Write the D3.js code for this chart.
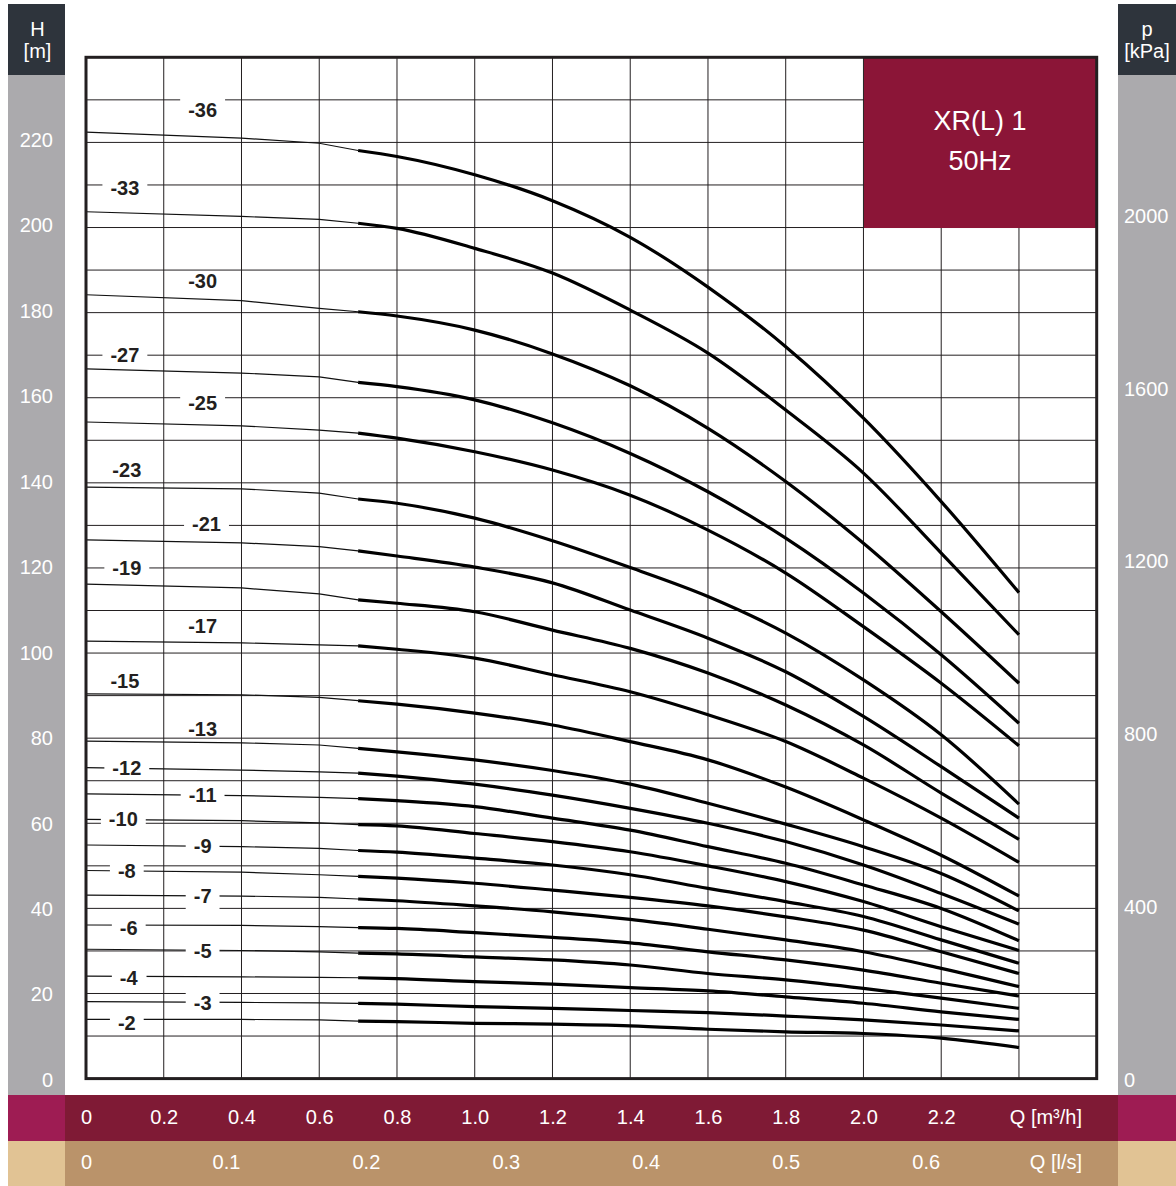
<!DOCTYPE html>
<html>
<head>
<meta charset="utf-8">
<script src="https://cdn.jsdelivr.net/npm/d3@7"></script>
<style>
  body { margin: 0; background: #fff; }
  text { font-family: "Liberation Sans", Arial, Helvetica, sans-serif; }
</style>
</head>
<body>
<svg id="chart" width="1176" height="1186"></svg>
<script>
// Pump curves XR(L) 1, 50 Hz: head H [m] against flow Q [m³/h]
const stages = [36, 33, 30, 27, 25, 23, 21, 19, 17, 15, 13, 12, 11, 10, 9, 8, 7, 6, 5, 4, 3, 2];

// Flow points of the thin (outside working range) and bold (working range) parts
const qThin = [0, 0.4, 0.6, 0.7];
const qBold = [0.7, 0.8, 1.0, 1.2, 1.4, 1.6, 1.8, 2.0, 2.2, 2.4];

// Head values [m], one row per stage count, same order as `stages`
const headThin = [
  [222.4, 221.0, 219.8, 218.1],
  [203.7, 202.6, 201.9, 201.0],
  [184.2, 182.8, 181.0, 180.2],
  [166.8, 165.8, 164.9, 163.6],
  [154.3, 153.4, 152.4, 151.7],
  [139.0, 138.6, 137.6, 136.2],
  [126.6, 125.9, 125.0, 124.0],
  [116.2, 115.3, 113.9, 112.5],
  [102.8, 102.4, 101.9, 101.7],
  [90.4, 90.2, 89.6, 88.8],
  [79.3, 78.9, 78.4, 77.6],
  [73.1, 72.5, 72.1, 71.8],
  [66.9, 66.5, 66.1, 65.8],
  [60.9, 60.6, 60.1, 59.7],
  [54.9, 54.5, 54.1, 53.6],
  [48.9, 48.5, 47.9, 47.5],
  [43.1, 42.9, 42.6, 42.2],
  [36.1, 36.0, 35.7, 35.5],
  [30.4, 30.1, 29.8, 29.5],
  [24.1, 23.9, 23.8, 23.7],
  [18.1, 17.9, 17.8, 17.7],
  [13.9, 13.9, 13.8, 13.5]
];

const headBold = [
  [218.1, 216.7, 212.4, 206.3, 197.7, 186.0, 172.0, 155.2, 135.6, 114.2],
  [201.0, 199.8, 195.1, 189.3, 180.6, 170.5, 157.1, 142.3, 123.5, 104.3],
  [180.2, 179.2, 175.9, 170.3, 162.8, 152.8, 140.3, 125.8, 109.7, 92.9],
  [163.6, 162.6, 159.5, 154.1, 146.9, 137.9, 127.0, 114.1, 99.6, 83.5],
  [151.7, 150.5, 147.3, 143.0, 137.1, 128.9, 118.8, 106.2, 92.9, 78.2],
  [136.2, 135.2, 131.7, 126.4, 120.1, 113.3, 104.7, 93.7, 80.8, 64.5],
  [124.0, 122.8, 120.2, 116.5, 110.1, 103.5, 95.6, 85.1, 73.3, 61.2],
  [112.5, 111.7, 109.7, 105.4, 101.1, 95.3, 87.8, 78.4, 67.1, 56.2],
  [101.7, 100.9, 98.8, 94.9, 90.9, 85.5, 79.2, 70.6, 61.2, 50.8],
  [88.8, 88.0, 85.9, 83.1, 79.2, 74.9, 68.5, 60.8, 52.5, 42.9],
  [77.6, 76.8, 74.9, 72.4, 69.2, 64.7, 59.8, 54.5, 48.2, 39.4],
  [71.8, 71.1, 69.2, 66.6, 63.5, 60.0, 55.7, 50.2, 43.5, 36.3],
  [65.8, 65.3, 63.9, 61.2, 58.4, 54.5, 50.6, 45.5, 40.0, 32.4],
  [59.7, 59.4, 57.6, 55.7, 53.3, 50.0, 46.3, 41.6, 35.7, 30.1],
  [53.6, 53.2, 51.8, 50.2, 47.9, 44.7, 41.6, 38.1, 32.6, 27.1],
  [47.5, 47.1, 45.9, 44.3, 42.6, 40.6, 38.0, 34.9, 29.8, 24.7],
  [42.2, 41.8, 40.6, 39.2, 37.4, 35.1, 32.6, 29.8, 25.9, 21.6],
  [35.5, 35.3, 34.3, 33.2, 31.9, 29.8, 27.9, 25.5, 22.4, 19.4],
  [29.5, 29.3, 28.6, 27.9, 26.7, 24.7, 23.2, 21.2, 18.9, 16.5],
  [23.7, 23.5, 22.8, 22.2, 21.4, 20.6, 19.2, 17.7, 15.7, 13.9],
  [17.7, 17.5, 16.9, 16.5, 16.0, 15.5, 14.7, 13.8, 12.6, 11.2],
  [13.5, 13.4, 13.0, 12.8, 12.4, 11.6, 11.0, 10.6, 9.5, 7.3]
];

// Where each stage label sits, in chart units (Q, H)
const labelQ = [0.30, 0.10, 0.30, 0.10, 0.30, 0.105, 0.31, 0.105, 0.30, 0.10, 0.30,
                0.105, 0.30, 0.096, 0.30, 0.105, 0.30, 0.11, 0.30, 0.11, 0.30, 0.105];
const labelH = [227.6, 209.3, 187.5, 170.1, 158.8, 143.0, 130.3, 120.0, 106.4, 93.4, 82.3,
                73.1, 66.6, 61.0, 54.7, 48.9, 42.9, 35.5, 30.1, 23.6, 17.8, 13.1];

// Axis ticks
const hTicks = [0, 20, 40, 60, 80, 100, 120, 140, 160, 180, 200, 220];
const pTicks = [0, 400, 800, 1200, 1600, 2000];
const qTicks = [0, 0.2, 0.4, 0.6, 0.8, 1.0, 1.2, 1.4, 1.6, 1.8, 2.0, 2.2];
const lsTicks = [0, 0.1, 0.2, 0.3, 0.4, 0.5, 0.6];
const hGrid = d3.range(10, 240, 10);
const qGrid = d3.range(1, 13).map(i => i * 0.2);

const titleLines = ["XR(L) 1", "50Hz"];

// ---------------------------------------------------------------
const svg = d3.select("#chart");
const plot = { left: 86, right: 1096.7, top: 57.3, bottom: 1078.6 };

const x = d3.scaleLinear().domain([0, 2.6]).range([plot.left, plot.right]);
const xLs = d3.scaleLinear().domain([0, 2.6 / 3.6]).range([plot.left, plot.right]);
const y = d3.scaleLinear().domain([0, 240]).range([plot.bottom, plot.top]);
// the head scale printed in the left column runs a touch taller than the grid
const yLabel = d3.scaleLinear().domain([0, 220]).range([1080, 140]);
const yP = d3.scaleLinear().domain([0, 2364]).range([plot.bottom, plot.top]);

const ink = "#231f20";

// Side columns and bottom bands
svg.append("rect").attr("x", 8).attr("y", 75).attr("width", 57).attr("height", 1020).attr("fill", "#abaaad");
svg.append("rect").attr("x", 1118).attr("y", 75).attr("width", 58).attr("height", 1020).attr("fill", "#abaaad");
svg.append("rect").attr("x", 8).attr("y", 4).attr("width", 57).attr("height", 71).attr("fill", "#2e343c");
svg.append("rect").attr("x", 1118).attr("y", 4).attr("width", 58).attr("height", 71).attr("fill", "#2e343c");

svg.append("rect").attr("x", 8).attr("y", 1095).attr("width", 1168).attr("height", 46).attr("fill", "#9e1c53");
svg.append("rect").attr("x", 65).attr("y", 1095).attr("width", 1053).attr("height", 46).attr("fill", "#7f1a35");
svg.append("rect").attr("x", 8).attr("y", 1141).attr("width", 1168).attr("height", 45).attr("fill", "#e1c394");
svg.append("rect").attr("x", 65).attr("y", 1141).attr("width", 1053).attr("height", 45).attr("fill", "#ba936a");

// Unit headers
const hdr = (cx, lines) => lines.forEach((t, i) =>
  svg.append("text").attr("x", cx).attr("y", 29 + i * 22).attr("dy", "0.35em")
     .attr("text-anchor", "middle").attr("fill", "#fff").attr("font-size", 20).text(t));
hdr(37.5, ["H", "[m]"]);
hdr(1147, ["p", "[kPa]"]);

// Plot background and grid
svg.append("rect").attr("x", plot.left).attr("y", plot.top)
   .attr("width", plot.right - plot.left).attr("height", plot.bottom - plot.top).attr("fill", "#fff");

const grid = svg.append("g").attr("stroke", ink).attr("stroke-width", 1);
grid.selectAll("line.h").data(hGrid).join("line").attr("class", "h")
    .attr("x1", plot.left).attr("x2", plot.right).attr("y1", d => y(d)).attr("y2", d => y(d));
grid.selectAll("line.v").data(qGrid).join("line").attr("class", "v")
    .attr("y1", plot.top).attr("y2", plot.bottom).attr("x1", d => x(d)).attr("x2", d => x(d));

// Curves
const thinLine = d3.line().x(d => x(d[0])).y(d => y(d[1]));
const boldLine = d3.line().x(d => x(d[0])).y(d => y(d[1])).curve(d3.curveMonotoneX);

const curves = svg.append("g").attr("fill", "none");
stages.forEach((s, i) => {
  curves.append("path")
    .attr("d", thinLine(qThin.map((q, j) => [q, headThin[i][j]])))
    .attr("stroke", "#111").attr("stroke-width", 1.2);
  curves.append("path")
    .attr("d", boldLine(qBold.map((q, j) => [q, headBold[i][j]])))
    .attr("stroke", "#000").attr("stroke-width", 3.2);
});

// Stage labels, each on a white patch that breaks the lines behind it
const padTop = { 36: 12, 3: 12 };
const padBottom = { 7: 14 };
const labels = svg.append("g");
stages.forEach((s, i) => {
  const g = labels.append("g");
  const cx = x(labelQ[i]), cy = y(labelH[i]);
  const t = g.append("text").attr("x", cx).attr("y", cy).attr("dy", "0.36em")
    .attr("text-anchor", "middle").attr("font-size", 20).attr("font-weight", "bold")
    .attr("fill", ink).text("-" + s);
  const bb = t.node().getBBox();
  const top = padTop[s] || 8, bottom = padBottom[s] || 8;
  g.insert("rect", "text")
    .attr("x", bb.x - 8).attr("width", bb.width + 16)
    .attr("y", cy - top).attr("height", top + bottom).attr("fill", "#fff");
});

// Type box
svg.append("rect").attr("x", 864).attr("y", plot.top)
   .attr("width", plot.right - 864).attr("height", 228 - plot.top).attr("fill", "#8b1537");
titleLines.forEach((t, i) =>
  svg.append("text").attr("x", 980).attr("y", 121 + i * 40).attr("dy", "0.35em")
     .attr("text-anchor", "middle").attr("fill", "#fff").attr("font-size", 27).text(t));

// Plot frame
svg.append("rect").attr("x", plot.left).attr("y", plot.top)
   .attr("width", plot.right - plot.left).attr("height", plot.bottom - plot.top)
   .attr("fill", "none").attr("stroke", ink).attr("stroke-width", 3);

// Axes
const styleAxis = (g) => {
  g.select(".domain").remove();
  g.selectAll("text").attr("fill", "#fff").attr("font-size", 20)
   .attr("font-family", '"Liberation Sans", Arial, sans-serif');
};
const fmtQ = d => d === 0 ? "0" : d.toFixed(1);

svg.append("g").attr("transform", "translate(53,0)")
   .call(d3.axisLeft(yLabel).tickValues(hTicks).tickFormat(d3.format("d")).tickSize(0).tickPadding(0))
   .call(styleAxis);

svg.append("g").attr("transform", "translate(1124,1.4)")
   .call(d3.axisRight(yP).tickValues(pTicks).tickFormat(d3.format("d")).tickSize(0).tickPadding(0))
   .call(styleAxis);

svg.append("g").attr("transform", "translate(0,1117)")
   .call(d3.axisBottom(x).tickValues(qTicks).tickFormat(fmtQ).tickSize(0).tickPadding(0))
   .call(styleAxis)
   .selectAll("text").attr("dy", "0.35em");

svg.append("g").attr("transform", "translate(0,1162)")
   .call(d3.axisBottom(xLs).tickValues(lsTicks).tickFormat(fmtQ).tickSize(0).tickPadding(0))
   .call(styleAxis)
   .selectAll("text").attr("dy", "0.35em");

svg.append("text").attr("x", 1082).attr("y", 1117).attr("dy", "0.35em").attr("text-anchor", "end")
   .attr("fill", "#fff").attr("font-size", 20).text("Q [m³/h]");
svg.append("text").attr("x", 1082).attr("y", 1162).attr("dy", "0.35em").attr("text-anchor", "end")
   .attr("fill", "#fff").attr("font-size", 20).text("Q [l/s]");
</script>
</body>
</html>
